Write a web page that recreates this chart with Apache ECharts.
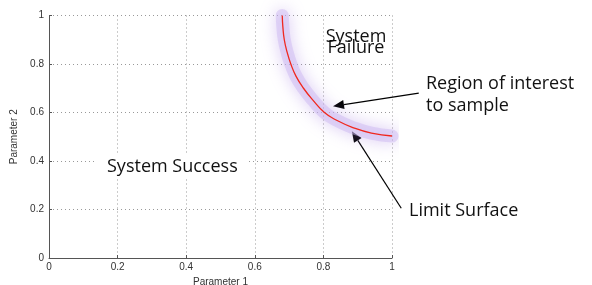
<!DOCTYPE html>
<html>
<head>
<meta charset="utf-8">
<script src="https://cdn.jsdelivr.net/npm/echarts@6/dist/echarts.min.js"></script>
<style>
  html, body { margin: 0; padding: 0; background: #fff; }
  #box1 { width: 592px; height: 285px; }
</style>
</head>
<body>
<div id="box1"></div>
<script>
// limit surface points [param1, param2]
let limitSurface = [
    [0.680, 1.000],
    [0.682, 0.950],
    [0.686, 0.900],
    [0.694, 0.850],
    [0.705, 0.800],
    [0.720, 0.750],
    [0.742, 0.700],
    [0.770, 0.650],
    [0.803, 0.600],
    [0.840, 0.567],
    [0.884, 0.539],
    [0.940, 0.515],
    [1.000, 0.503]
];
// arrows: [from, to] in data coords
let arrowRegion = [[1.078, 0.680], [0.828, 0.626]];
let arrowLimit = [[1.027, 0.205], [0.883, 0.523]];

let tickFont = { fontFamily: 'Liberation Sans, Arial, sans-serif', fontSize: 10, color: '#333' };
let noteFont = 'Open Sans, Noto Sans, sans-serif';

let box1 = document.querySelector('#box1');
let myChart1 = echarts.init(box1);
let option1 = {
    animation: false,
    grid: {
        left: 49,
        right: 200,
        top: 15.5,
        bottom: 27,
        outerBoundsMode: 'none',
        containLabel: false
    },
    xAxis: {
        type: 'value',
        min: 0,
        max: 1,
        interval: 0.2,
        name: 'Parameter 1',
        nameLocation: 'middle',
        nameGap: 14,
        nameTextStyle: tickFont,
        axisLine: { show: true, lineStyle: { color: '#555', width: 1 } },
        axisTick: { show: true, inside: true, length: 3, lineStyle: { color: '#555' } },
        axisLabel: Object.assign({ margin: 4 }, tickFont),
        splitLine: { show: true, lineStyle: { color: '#999', type: [1, 3], width: 1 } }
    },
    yAxis: {
        type: 'value',
        min: 0,
        max: 1,
        interval: 0.2,
        name: 'Parameter 2',
        nameLocation: 'middle',
        nameRotate: 90,
        nameGap: 27,
        nameTextStyle: tickFont,
        axisLine: { show: true, lineStyle: { color: '#555', width: 1 } },
        axisTick: { show: true, inside: true, length: 3, lineStyle: { color: '#555' } },
        axisLabel: Object.assign({ margin: 5 }, tickFont),
        splitLine: { show: true, lineStyle: { color: '#999', type: [1, 3], width: 1 } }
    },
    series: [
        {
            // purple halo
            type: 'line',
            data: limitSurface,
            smooth: 0.5,
            showSymbol: false,
            silent: true,
            clip: false,
            lineStyle: {
                width: 13,
                color: 'rgba(205,185,242,0.5)',
                cap: 'round',
                join: 'round',
                shadowBlur: 16,
                shadowColor: 'rgba(165,125,228,0.8)'
            }
        },
        {
            type: 'line',
            data: limitSurface,
            smooth: 0.5,
            showSymbol: false,
            clip: false,
            lineStyle: { width: 1.3, color: '#f0281e' }
        }
    ]
};
myChart1.setOption(option1);

// arrows and notes, placed from data coords
function arrow(pair) {
    let a = myChart1.convertToPixel({ gridIndex: 0 }, pair[0]);
    let b = myChart1.convertToPixel({ gridIndex: 0 }, pair[1]);
    let dx = b[0] - a[0], dy = b[1] - a[1];
    let len = Math.sqrt(dx * dx + dy * dy);
    let ux = dx / len, uy = dy / len;
    let headLen = 11, headW = 4.5;
    let bx = b[0] - ux * headLen, by = b[1] - uy * headLen;
    return [
        {
            type: 'line',
            silent: true,
            shape: { x1: a[0], y1: a[1], x2: bx, y2: by },
            style: { stroke: '#000', lineWidth: 1.2 }
        },
        {
            type: 'polygon',
            silent: true,
            shape: {
                points: [
                    [b[0], b[1]],
                    [bx - uy * headW, by + ux * headW],
                    [bx + uy * headW, by - ux * headW]
                ]
            },
            style: { fill: '#000' }
        }
    ];
}

let notes = [
    { type: 'text', x: 97, y: 167, style: { text: 'System Success', fontFamily: noteFont, fontSize: 18, fill: '#111', verticalAlign: 'middle', backgroundColor: '#fff', padding: [3, 10] } },
    { type: 'text', x: 356, y: 42, style: { text: 'System\nFailure', fontFamily: noteFont, fontSize: 18, lineHeight: 11, fill: '#111', align: 'center', verticalAlign: 'middle' } },
    { type: 'text', x: 426, y: 73, style: { text: 'Region of interest\nto sample', fontFamily: noteFont, fontSize: 18, lineHeight: 22, fill: '#111', verticalAlign: 'top' } },
    { type: 'text', x: 409, y: 211, style: { text: 'Limit Surface', fontFamily: noteFont, fontSize: 18, fill: '#111', verticalAlign: 'middle' } }
];

myChart1.setOption({
    graphic: notes.concat(arrow(arrowRegion), arrow(arrowLimit))
});
</script>
</body>
</html>
